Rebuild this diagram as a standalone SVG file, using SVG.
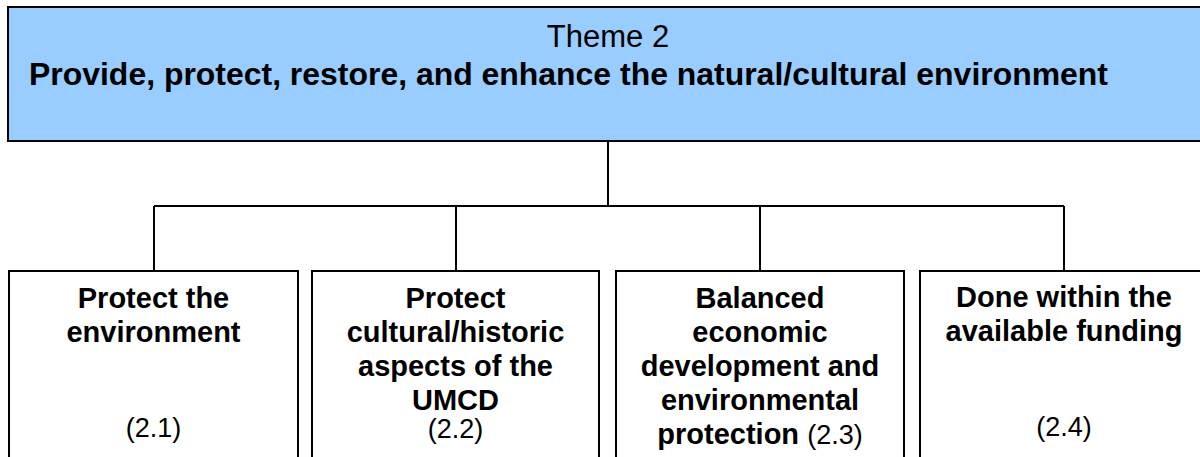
<svg xmlns="http://www.w3.org/2000/svg" width="1200" height="457" viewBox="0 0 1200 457">
<style>
.box{fill:#ffffff;stroke:#000000;stroke-width:2}
.top{fill:#99ccff;stroke:#000000;stroke-width:2}
.line{fill:none;stroke:#000000;stroke-width:2}
text{font-family:"Liberation Sans",Arial,sans-serif;fill:#000000}
.b{font-weight:bold;font-size:29px;text-anchor:middle}
.r{font-weight:normal;font-size:27px;text-anchor:middle}
</style>
<rect width="1200" height="457" fill="#ffffff"/>
<g id="theme2">
<rect class="top" x="8" y="7" width="1210" height="134"/>
<text x="608" y="47" style="font-size:31px;text-anchor:middle">Theme 2</text>
<text x="29" y="85" style="font-size:32px;font-weight:bold" textLength="1079" lengthAdjust="spacingAndGlyphs">Provide, protect, restore, and enhance the natural/cultural environment</text>
</g>
<g id="connectors">
<path class="line" d="M608,141 V206 M154,206 H1064 M154,206 V271 M456,206 V271 M760,206 V271 M1064,206 V271"/>
</g>
<g id="n2-1">
<rect class="box" x="9" y="271" width="289" height="200"/>
<text class="b" x="153.5" y="308">Protect the</text>
<text class="b" x="153.5" y="342">environment</text>
<text class="r" x="153.5" y="437">(2.1)</text>
</g>
<g id="n2-2">
<rect class="box" x="312" y="271" width="287" height="200"/>
<text class="b" x="455.5" y="308">Protect</text>
<text class="b" x="455.5" y="342">cultural/historic</text>
<text class="b" x="455.5" y="376">aspects of the</text>
<text class="b" x="455.5" y="410">UMCD</text>
<text class="r" x="455.5" y="438">(2.2)</text>
</g>
<g id="n2-3">
<rect class="box" x="616" y="271" width="288" height="200"/>
<text class="b" x="760" y="308">Balanced</text>
<text class="b" x="760" y="342">economic</text>
<text class="b" x="760" y="376">development and</text>
<text class="b" x="760" y="410">environmental</text>
<text class="b" x="760" y="444">protection <tspan style="font-weight:normal;font-size:27px">(2.3)</tspan></text>
</g>
<g id="n2-4">
<rect class="box" x="920" y="271" width="290" height="200"/>
<text class="b" x="1064" y="307">Done within the</text>
<text class="b" x="1064" y="341">available funding</text>
<text class="r" x="1064" y="436">(2.4)</text>
</g>
</svg>
